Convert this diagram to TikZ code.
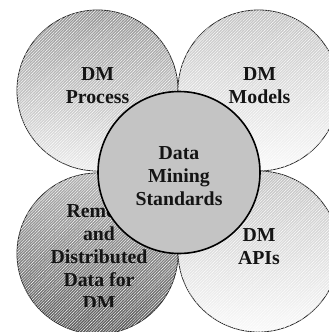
\documentclass[tikz,border=0pt]{standalone}
\usepackage{fontspec}
\setmainfont{Liberation Serif}
\usetikzlibrary{patterns.meta}
\begin{document}
\begin{tikzpicture}[x=1pt,y=-1pt,
  outer/.style={draw=black!85,line width=0.8pt,shading=axis,shading angle=45,
    postaction={fill opacity=0.12,pattern={Lines[angle=45,distance=2pt,line width=0.4pt]},pattern color=white}},
  lbl/.style={align=center,inner sep=0pt,font=\bfseries\fontsize{19.8}{23}\selectfont,text=black!92}]
\useasboundingbox (0,0) rectangle (329,332);
\path[outer,top color=black!42,bottom color=black!7] (97.5,90.5) circle[radius=80.5];
\path[outer,top color=black!24,bottom color=black!2] (258.5,90.5) circle[radius=80.5];
\path[outer,top color=black!30,bottom color=black!65] (97.5,253.5) circle[radius=80.5];
\path[outer,top color=black!24,bottom color=black!2] (258.5,251.5) circle[radius=80.5];
\node[lbl] (proc) at (97.5,86) {DM\\Process};
\node[lbl] (mod) at (259.5,86) {DM\\Models};
\begin{scope}
\clip (0,0) rectangle (329,306);
\node[lbl] (rem) at (99,257.5) {Remote\\and\\Distributed\\Data for\\DM};
\end{scope}
\node[lbl] (api) at (259,247) {DM\\APIs};
\node[circle,draw=black,line width=1.6pt,fill=black!23,minimum size=162pt,inner sep=0pt] (std) at (179,172.5) {};
\node[lbl] (stdt) at (179,176) {Data\\Mining\\Standards};
\end{tikzpicture}
\end{document}
